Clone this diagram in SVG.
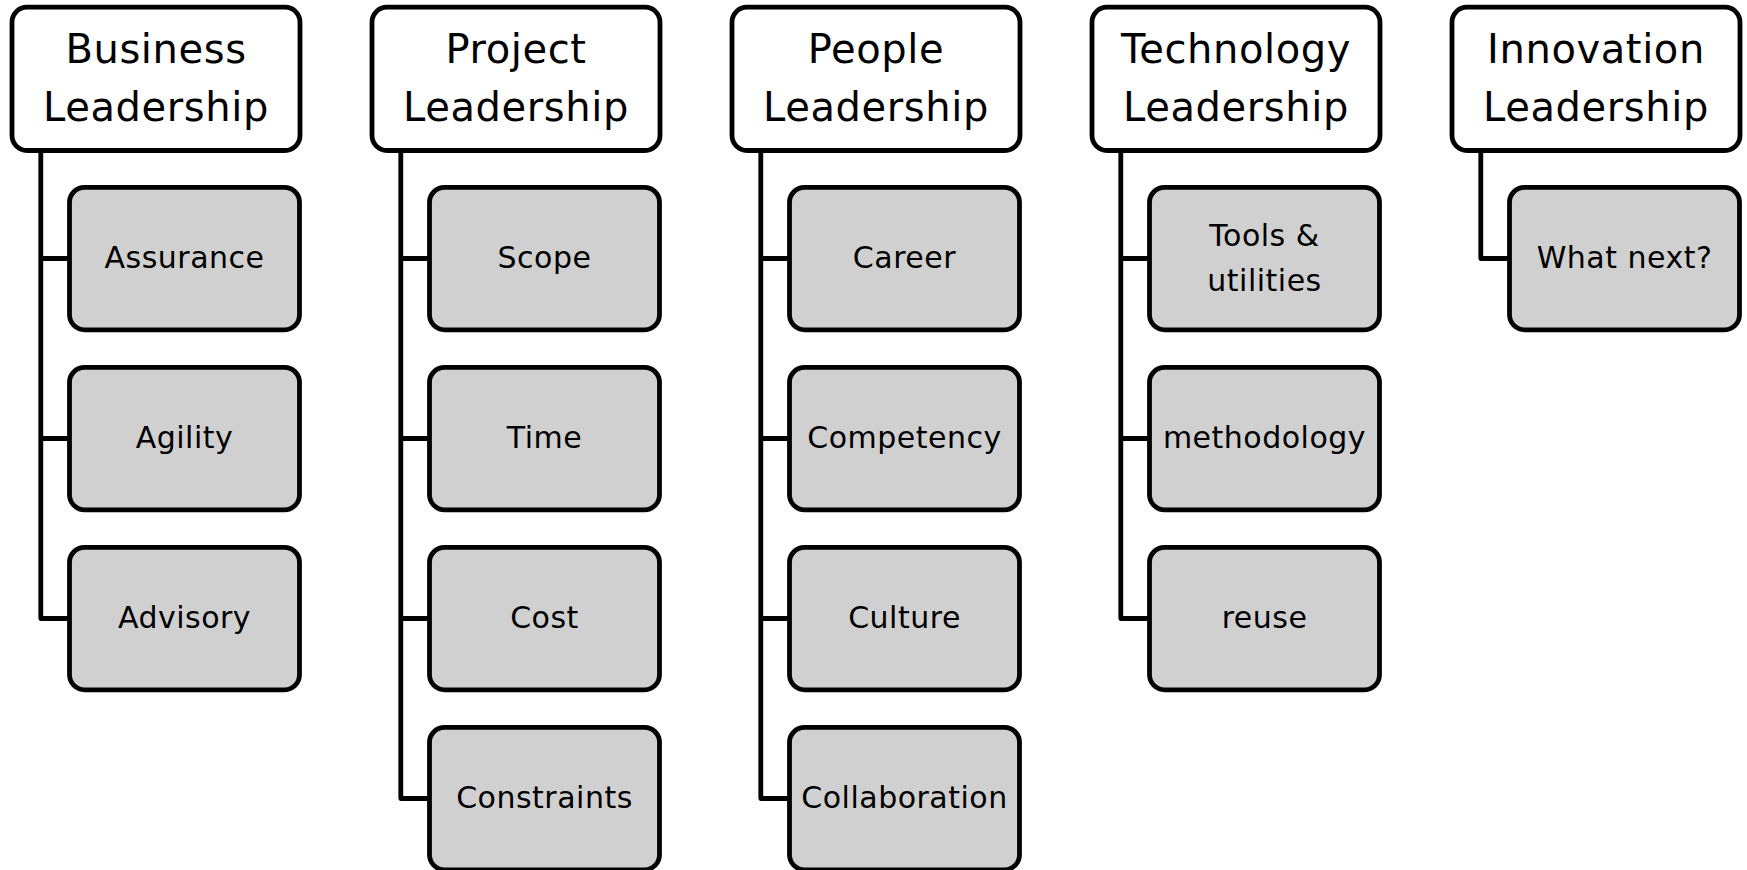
<svg xmlns="http://www.w3.org/2000/svg" width="1747" height="870" viewBox="0 0 1747 870">
<style>
.hdr{fill:#ffffff;stroke:#000;stroke-width:4.8}
.sub{fill:#d0d0d0;stroke:#000;stroke-width:4.8}
.ht{font-family:"DejaVu Sans",Verdana,sans-serif;font-size:40px;fill:#000;text-anchor:middle;letter-spacing:0.6px}
.st{font-family:"DejaVu Sans",Verdana,sans-serif;font-size:30px;fill:#000;text-anchor:middle;letter-spacing:0.5px}
.con{fill:none;stroke:#000;stroke-width:4.8;stroke-linejoin:round}
</style>
<rect width="1747" height="870" fill="#ffffff"/>
<g id="connectors">
<path class="con" d="M40.8 150.5 V618.5 H69.5 M40.8 258.5 H69.5 M40.8 438.5 H69.5"/>
<path class="con" d="M400.8 150.5 V798.5 H429.5 M400.8 258.5 H429.5 M400.8 438.5 H429.5 M400.8 618.5 H429.5"/>
<path class="con" d="M760.8 150.5 V798.5 H789.5 M760.8 258.5 H789.5 M760.8 438.5 H789.5 M760.8 618.5 H789.5"/>
<path class="con" d="M1120.8 150.5 V618.5 H1149.5 M1120.8 258.5 H1149.5 M1120.8 438.5 H1149.5"/>
<path class="con" d="M1480.8 150.5 V258.5 H1509.5"/>
</g>
<g id="business-leadership"><rect class="hdr" x="12" y="7.2" width="288" height="143.3" rx="15"/><text class="ht" x="156"><tspan x="156" y="62.7">Business</tspan><tspan x="156" y="120.5">Leadership</tspan></text></g>
<g id="assurance"><rect class="sub" x="69.5" y="187.3" width="230" height="142.5" rx="15"/><text class="st" x="184.5" y="268">Assurance</text></g>
<g id="agility"><rect class="sub" x="69.5" y="367.3" width="230" height="142.5" rx="15"/><text class="st" x="184.5" y="448">Agility</text></g>
<g id="advisory"><rect class="sub" x="69.5" y="547.3" width="230" height="142.5" rx="15"/><text class="st" x="184.5" y="628">Advisory</text></g>

<g id="project-leadership"><rect class="hdr" x="372" y="7.2" width="288" height="143.3" rx="15"/><text class="ht" x="516"><tspan x="516" y="62.7">Project</tspan><tspan x="516" y="120.5">Leadership</tspan></text></g>
<g id="scope"><rect class="sub" x="429.5" y="187.3" width="230" height="142.5" rx="15"/><text class="st" x="544.5" y="268">Scope</text></g>
<g id="time"><rect class="sub" x="429.5" y="367.3" width="230" height="142.5" rx="15"/><text class="st" x="544.5" y="448">Time</text></g>
<g id="cost"><rect class="sub" x="429.5" y="547.3" width="230" height="142.5" rx="15"/><text class="st" x="544.5" y="628">Cost</text></g>
<g id="constraints"><rect class="sub" x="429.5" y="727.3" width="230" height="142.5" rx="15"/><text class="st" x="544.5" y="808">Constraints</text></g>

<g id="people-leadership"><rect class="hdr" x="732" y="7.2" width="288" height="143.3" rx="15"/><text class="ht" x="876"><tspan x="876" y="62.7">People</tspan><tspan x="876" y="120.5">Leadership</tspan></text></g>
<g id="career"><rect class="sub" x="789.5" y="187.3" width="230" height="142.5" rx="15"/><text class="st" x="904.5" y="268">Career</text></g>
<g id="competency"><rect class="sub" x="789.5" y="367.3" width="230" height="142.5" rx="15"/><text class="st" x="904.5" y="448">Competency</text></g>
<g id="culture"><rect class="sub" x="789.5" y="547.3" width="230" height="142.5" rx="15"/><text class="st" x="904.5" y="628">Culture</text></g>
<g id="collaboration"><rect class="sub" x="789.5" y="727.3" width="230" height="142.5" rx="15"/><text class="st" x="904.5" y="808">Collaboration</text></g>

<g id="technology-leadership"><rect class="hdr" x="1092" y="7.2" width="288" height="143.3" rx="15"/><text class="ht" x="1236"><tspan x="1236" y="62.7">Technology</tspan><tspan x="1236" y="120.5">Leadership</tspan></text></g>
<g id="tools-utilities"><rect class="sub" x="1149.5" y="187.3" width="230" height="142.5" rx="15"/><text class="st" x="1264.5"><tspan x="1264.5" y="245.5">Tools &amp;</tspan><tspan x="1264.5" y="290.5">utilities</tspan></text></g>
<g id="methodology"><rect class="sub" x="1149.5" y="367.3" width="230" height="142.5" rx="15"/><text class="st" x="1264.5" y="448">methodology</text></g>
<g id="reuse"><rect class="sub" x="1149.5" y="547.3" width="230" height="142.5" rx="15"/><text class="st" x="1264.5" y="628">reuse</text></g>

<g id="innovation-leadership"><rect class="hdr" x="1452" y="7.2" width="288" height="143.3" rx="15"/><text class="ht" x="1596"><tspan x="1596" y="62.7">Innovation</tspan><tspan x="1596" y="120.5">Leadership</tspan></text></g>
<g id="what-next"><rect class="sub" x="1509.5" y="187.3" width="230" height="142.5" rx="15"/><text class="st" x="1624.5" y="268">What next?</text></g>
</svg>
